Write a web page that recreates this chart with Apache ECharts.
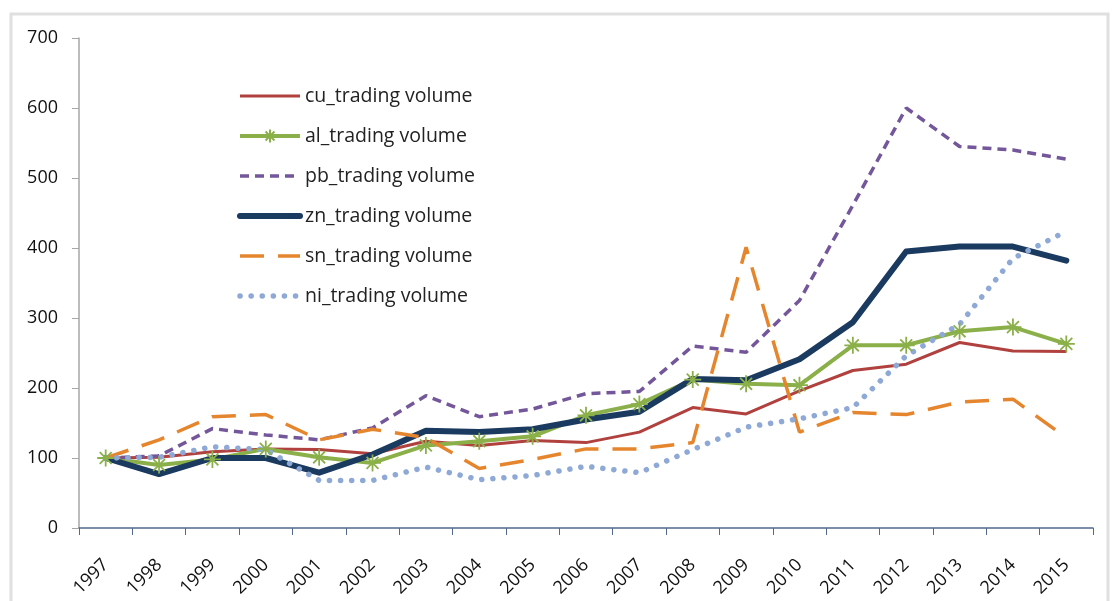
<!DOCTYPE html>
<html>
<head>
<meta charset="utf-8">
<script src="https://cdn.jsdelivr.net/npm/echarts@6/dist/echarts.min.js"></script>
<style>
  body { margin: 0; background: #fff; }
</style>
</head>
<body>
<div id="chart" style="width: 1115px;height: 601px"></div>
<script>
// years on the x axis
var years = ['1997', '1998', '1999', '2000', '2001', '2002', '2003', '2004', '2005', '2006',
  '2007', '2008', '2009', '2010', '2011', '2012', '2013', '2014', '2015']
// index, 1997 = 100
var cu = [100, 101, 109, 113, 112, 106, 124, 118, 125, 122, 137, 172, 163, 196, 225, 234, 265, 253, 252]
var al = [100, 90, 98, 113, 101, 93, 118, 124, 131, 161, 177, 212, 206, 204, 261, 261, 281, 287, 263]
var pb = [100, 103, 142, 133, 126, 143, 189, 159, 170, 192, 195, 260, 251, 325, 461, 600, 545, 540, 527]
var zn = [100, 77, 100, 100, 79, 105, 139, 137, 141, 155, 166, 213, 211, 241, 294, 395, 402, 402, 382]
var sn = [100, 126, 159, 162, 126, 141, 129, 85, 98, 113, 113, 122, 401, 137, 165, 162, 180, 184, 129]
var ni = [100, 101, 116, 112, 68, 68, 87, 69, 75, 88, 79, 112, 144, 156, 172, 246, 291, 385, 424]
var names = ['cu_trading volume', 'al_trading volume', 'pb_trading volume',
  'zn_trading volume', 'sn_trading volume', 'ni_trading volume']

var star = 'path://M0,5L10,5M5,0L5,10M1.5,1.5L8.5,8.5M8.5,1.5L1.5,8.5'
var font = 'Open Sans'
var lineWidths = [3, 4, 3.5, 6, 3.5, 5.5]

// legend entries: hide the default circle for series that have no marker
var legendData = names.map(function (n, i) {
  var item = { name: n, lineStyle: { width: lineWidths[i] } }
  if (i !== 1) item.itemStyle = { opacity: 0 }
  return item
})

var option = {
  animation: false,
  graphic: [{
    type: 'rect',
    shape: { x: 11, y: 14, width: 1097, height: 600 },
    style: { fill: 'none', stroke: '#e0e0e0', lineWidth: 3 }
  }],
  grid: { left: 79, right: 22, top: 38, bottom: 73, outerBoundsMode: 'none', containLabel: false },
  legend: {
    orient: 'vertical',
    left: 237,
    top: 86,
    padding: 0,
    itemWidth: 60,
    itemHeight: 16,
    itemGap: 20,
    textStyle: { fontFamily: font, fontSize: 19.5, color: '#222' },
    data: legendData
  },
  xAxis: {
    type: 'category',
    data: years,
    boundaryGap: true,
    axisLine: { lineStyle: { color: '#4f6a8a', width: 1.5 } },
    axisTick: { show: true, length: 7, lineStyle: { color: '#4f6a8a' } },
    axisLabel: { rotate: 45, interval: 0, margin: 34, fontFamily: font, fontSize: 18, color: '#111' }
  },
  yAxis: {
    type: 'value',
    min: 0,
    max: 700,
    interval: 100,
    splitLine: { show: false },
    axisLine: { show: true, lineStyle: { color: '#a6a6a6', width: 1.5 } },
    axisTick: { show: true, length: 7, lineStyle: { color: '#a6a6a6' } },
    axisLabel: { margin: 21, fontFamily: font, fontSize: 18, color: '#111' }
  },
  series: [
    {
      name: names[0], type: 'line', data: cu, symbol: 'none',
      itemStyle: { color: '#b0413e' },
      lineStyle: { color: '#b0413e', width: lineWidths[0] }
    },
    {
      name: names[1], type: 'line', data: al, symbol: star, symbolSize: 17,
      itemStyle: { color: 'none', borderColor: '#8bb04a', borderWidth: 1.8 },
      lineStyle: { color: '#8bb04a', width: lineWidths[1] }
    },
    {
      name: names[2], type: 'line', data: pb, symbol: 'none',
      itemStyle: { color: '#74579a' },
      lineStyle: { color: '#74579a', width: lineWidths[2], type: [9, 6] }
    },
    {
      name: names[3], type: 'line', data: zn, symbol: 'none',
      itemStyle: { color: '#1b3a60' },
      lineStyle: { color: '#1b3a60', width: lineWidths[3], cap: 'round', join: 'round' }
    },
    {
      name: names[4], type: 'line', data: sn, symbol: 'none',
      itemStyle: { color: '#e5862f' },
      lineStyle: { color: '#e5862f', width: lineWidths[4], type: [24, 14] }
    },
    {
      name: names[5], type: 'line', data: ni, symbol: 'none',
      itemStyle: { color: '#8ea9d6' },
      lineStyle: { color: '#8ea9d6', width: lineWidths[5], type: [0.1, 11], cap: 'round' }
    }
  ]
}

var myChart = echarts.init(document.getElementById('chart'))
myChart.setOption(option)
</script>
</body>
</html>
